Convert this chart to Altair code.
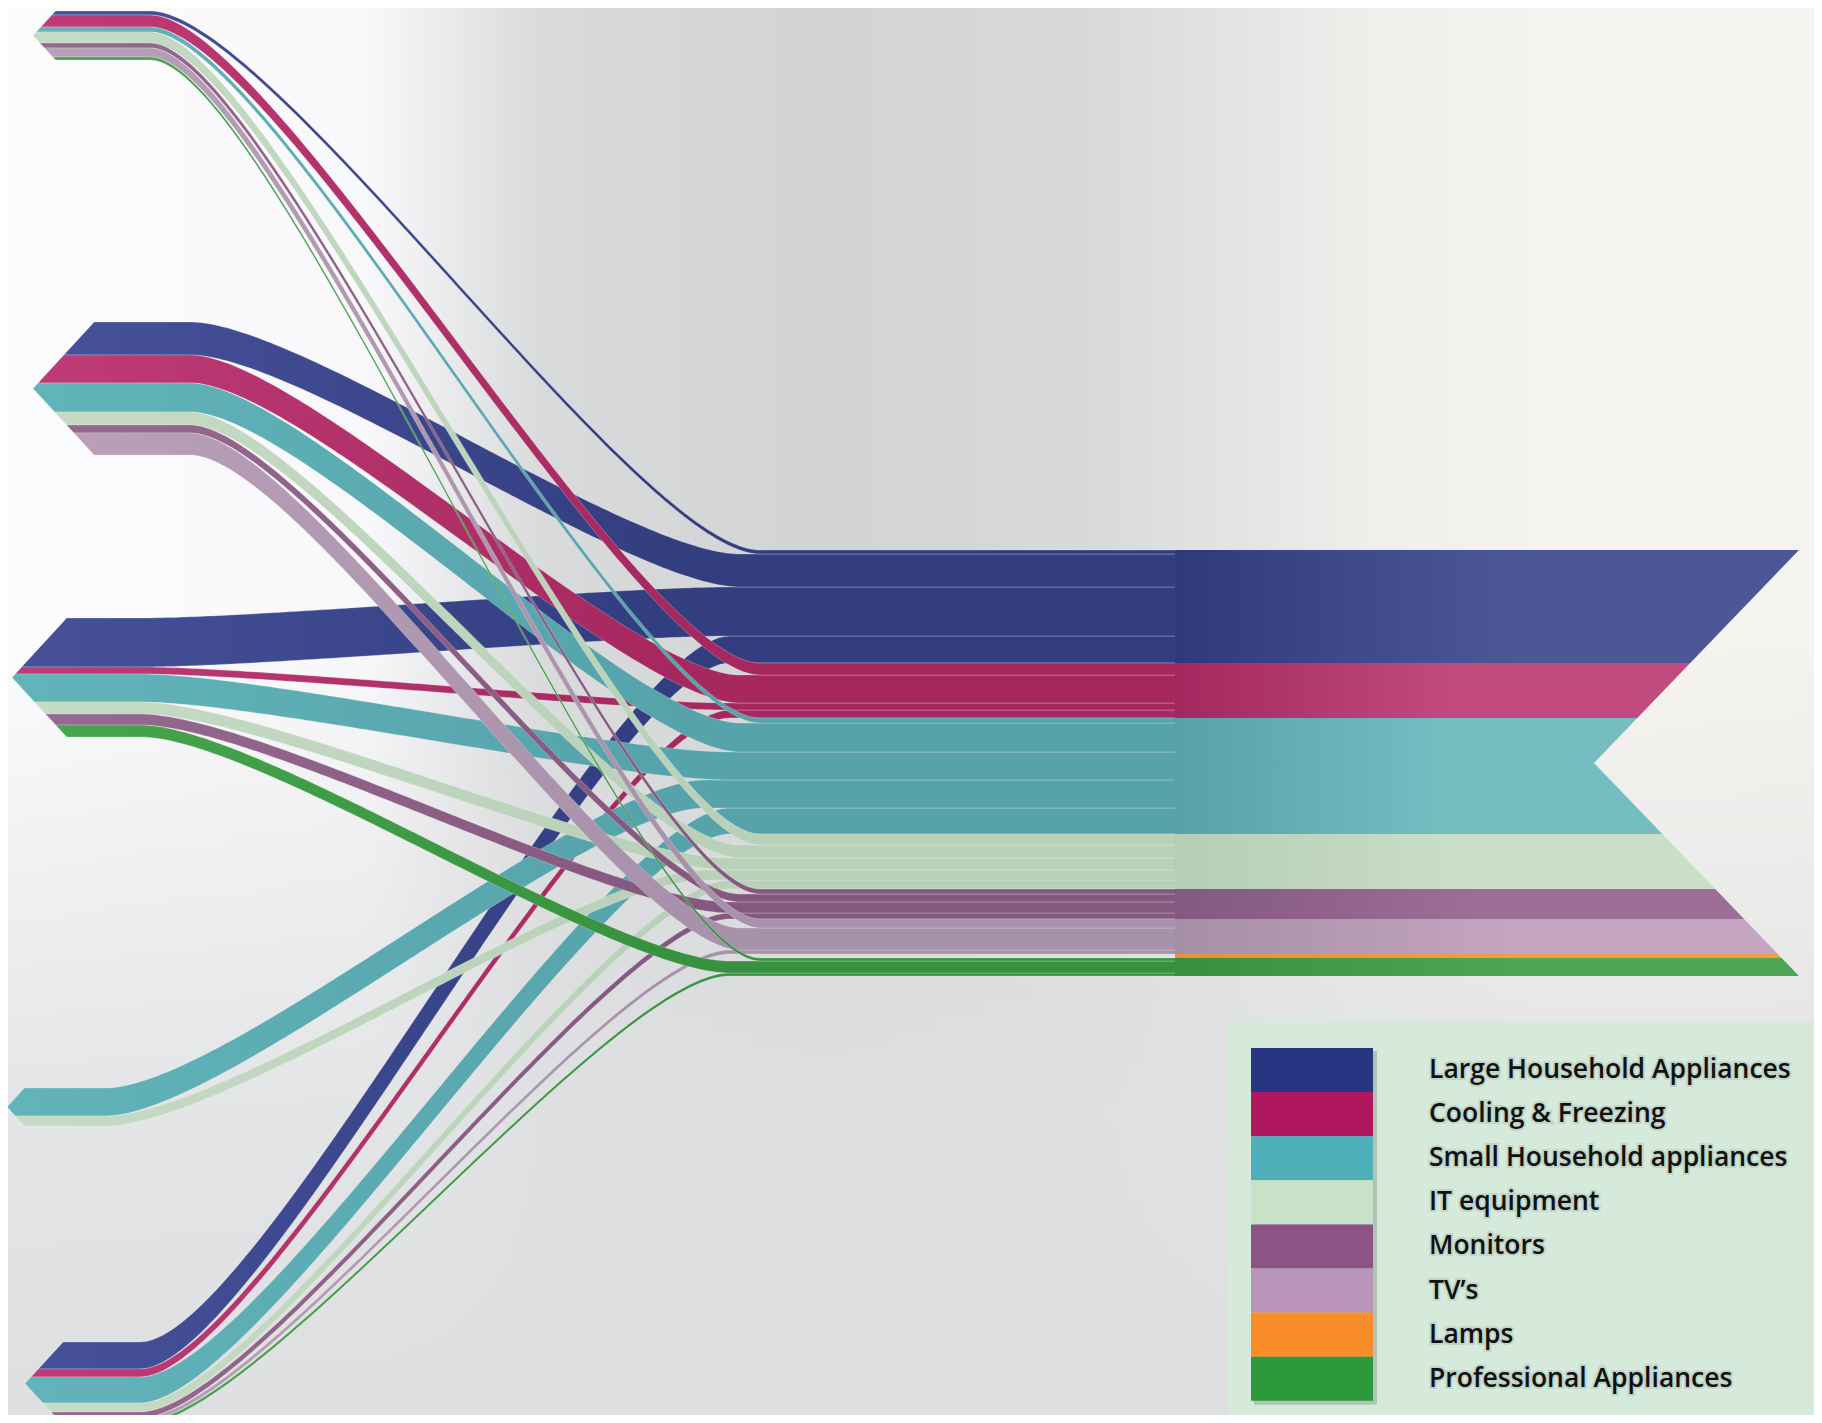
import altair as alt
import pandas as pd
import numpy as np

# ---------------- data ----------------
categories = ["Large Household Appliances", "Cooling & Freezing", "Small Household appliances",
              "IT equipment", "Monitors", "TV’s", "Lamps", "Professional Appliances"]
legend_colors = ["#283583", "#b0175e", "#4eafb9", "#c8e2c8", "#8c5386", "#b996b9", "#f98d2a", "#2e983d"]
flow_light = ["#46519a", "#bf3b77", "#62b4ba", "#c6dbc4", "#96698f", "#b9a0b9", "#f09a45", "#46a64c"]
flow_colors = ["#323e80", "#a6285f", "#56a3ab", "#b9d1b9", "#85587f", "#a891aa", "#e8913b", "#38913f"]
block_left = ["#2f3a7d", "#a3285f", "#58a1a9", "#b5ceb5", "#84587f", "#a58fa7", "#e8903a", "#38903e"]
block_right = ["#4c5896", "#c14b7e", "#75bdc1", "#cadfc6", "#9e6e96", "#c3a5c1", "#f29c47", "#50a554"]

sources = ["Source 1", "Source 2", "Source 3", "Source 4", "Source 5"]
flows_source1 = [4, 12, 5, 11, 5, 9, 0, 3]
flows_source2 = [33, 28, 29, 13, 8, 22, 0, 0]
flows_source3 = [49, 7, 28, 12, 11, 0, 0, 12]
flows_source4 = [0, 0, 28, 10, 0, 0, 0, 0]
flows_source5 = [27, 8, 26, 9, 6, 4, 0, 3]
flows = [flows_source1, flows_source2, flows_source3, flows_source4, flows_source5]
lamps_only_in_total = 4

# ---------------- layout (pixel space) ----------------
W, H = 1806, 1407
src_top = [11, 322, 618, 1088, 1342]
src_tip = [33, 33, 12, 7, 25]
src_bend = [150, 190, 140, 105, 140]
src_entry = [760, 740, 730, 705, 730]
CHEV = 0.92
TARGET_TOP = 550
BLOCK_X = 1175
ARROW_TIP = 1799
NOTCH_DEPTH = 205
K = 0.2

xs = alt.Scale(domain=[8, 8 + W], nice=False, zero=False)
ys = alt.Scale(domain=[8, 8 + H], reverse=True, nice=False, zero=False)

# target stacking
cat_tot = [sum(f[c] for f in flows) for c in range(8)]
cat_tot[6] += lamps_only_in_total
cat_top = list(np.cumsum([0] + cat_tot[:-1]) + TARGET_TOP)
tgt_bottom = TARGET_TOP + sum(cat_tot)
ptr = list(cat_top)
tgt_pos = {}
for s in range(5):
    for c in range(8):
        v = flows[s][c]
        if v > 0:
            tgt_pos[(s, c)] = ptr[c]
            ptr[c] += v

# flow band polygons
rows = []
finfo = []
fid = 0
for s in range(5):
    total = sum(flows[s])
    m = src_top[s] + total / 2.0
    tx = src_tip[s]
    off = src_top[s]
    for c in range(8):
        v = flows[s][c]
        if v <= 0:
            continue
        a, b = off, off + v
        off += v
        d = 0 if a <= m <= b else min(abs(a - m), abs(b - m))
        x0 = tx + CHEV * d
        cand = [x0, tx + CHEV * abs(a - m), tx + CHEV * abs(b - m)]
        xsamp = sorted(set(round(x, 4) for x in cand if x >= x0 - 1e-9))
        pts = []
        for x in xsamp:
            r = (x - tx) / CHEV
            top = max(a, m - r)
            bot = min(b, m + r)
            pts.append((x, top, max(top, bot)))
        x_s, x_e = src_bend[s], src_entry[s]
        at = tgt_pos[(s, c)]
        P = [(x_s, a), (x_s + K * (x_e - x_s), a), (x_e - K * (x_e - x_s), at), (x_e, at)]
        for t in np.linspace(0, 1, 120):
            u = 1 - t
            x = u**3 * P[0][0] + 3 * u * u * t * P[1][0] + 3 * u * t * t * P[2][0] + t**3 * P[3][0]
            y = u**3 * P[0][1] + 3 * u * u * t * P[1][1] + 3 * u * t * t * P[2][1] + t**3 * P[3][1]
            if x > pts[-1][0] + 1e-6:
                pts.append((x, y, y + v))
        pts.append((BLOCK_X + 1, at, at + v))
        for x, y1, y2 in pts:
            rows.append({"fid": fid, "src": s, "cat": categories[c], "x": x, "y": y1, "y2": y2})
        finfo.append((fid, s, c, pts[0][0], x_e))
        fid += 1
flow_df = pd.DataFrame(rows)

# ---------------- background ----------------
base = pd.DataFrame({"k": [0]})
bg_h = alt.Chart(base).mark_rect(color=alt.Gradient(
    gradient="linear", x1=0, x2=1, y1=0, y2=0,
    stops=[alt.GradientStop(color="#fcfcfe", offset=0),
           alt.GradientStop(color="#f8f8fa", offset=0.2),
           alt.GradientStop(color="#d9dadc", offset=0.295),
           alt.GradientStop(color="#d2d3d5", offset=0.45),
           alt.GradientStop(color="#d8d9da", offset=0.6),
           alt.GradientStop(color="#eeeeeb", offset=0.75),
           alt.GradientStop(color="#f5f4f0", offset=0.86),
           alt.GradientStop(color="#f4f3ef", offset=1)])).encode(
    x=alt.value(0), x2=alt.value(W), y=alt.value(0), y2=alt.value(H))
bg_v = alt.Chart(base).mark_rect(color=alt.Gradient(
    gradient="linear", x1=0, x2=0, y1=0, y2=1,
    stops=[alt.GradientStop(color="rgba(224,225,226,0)", offset=0),
           alt.GradientStop(color="rgba(224,225,226,0)", offset=0.45),
           alt.GradientStop(color="rgba(224,225,226,0.85)", offset=0.78),
           alt.GradientStop(color="rgba(222,223,224,1)", offset=1)])).encode(
    x=alt.value(0), x2=alt.value(W), y=alt.value(0), y2=alt.value(H))

# ---------------- flows (each with a light-to-dark gradient) ----------------
flow_layers = []
for s in [4, 3, 2, 1, 0]:
    for (f, fs, c, xstart, xentry) in finfo:
        if fs != s:
            continue
        d = flow_df[flow_df.fid == f]
        frac = (xentry - xstart) / (BLOCK_X + 1 - xstart)
        grad = alt.Gradient(
            gradient="linear", x1=0, x2=1, y1=0, y2=0,
            stops=[alt.GradientStop(color=flow_light[c], offset=0),
                   alt.GradientStop(color=flow_colors[c], offset=float(min(0.99, frac * 0.9))),
                   alt.GradientStop(color=flow_colors[c], offset=1)])
        flow_layers.append(
            alt.Chart(d).mark_area(clip=True, interpolate="linear", color=grad, stroke="#f4f4f4",
                                   strokeWidth=0.6, strokeOpacity=0.45, opacity=1).encode(
                x=alt.X("x:Q", scale=xs, axis=None),
                y=alt.Y("y:Q", scale=ys, axis=None, stack=None),
                y2="y2:Q",
            ))

# ---------------- end block (arrow tail) ----------------
notch_y = (TARGET_TOP + tgt_bottom) / 2.0
half = (tgt_bottom - TARGET_TOP) / 2.0


def right_edge(y):
    return ARROW_TIP - NOTCH_DEPTH + NOTCH_DEPTH * abs(y - notch_y) / half


block_layers = []
for c in range(8):
    a, b = cat_top[c], cat_top[c] + cat_tot[c]
    yy = [a] + ([notch_y] if a < notch_y < b else []) + [b]
    d = pd.DataFrame({"y": yy, "x": [right_edge(y) for y in yy], "x2": [BLOCK_X] * len(yy)})
    block_layers.append(
        alt.Chart(d).mark_area(orient="horizontal", clip=True, opacity=1, color=alt.Gradient(
            gradient="linear", x1=0, x2=1, y1=0, y2=0,
            stops=[alt.GradientStop(color=block_left[c], offset=0),
                   alt.GradientStop(color=block_right[c], offset=0.55),
                   alt.GradientStop(color=block_right[c], offset=1)])).encode(
            y=alt.Y("y:Q", scale=ys, axis=None),
            x=alt.X("x:Q", scale=xs, axis=None),
            x2="x2:Q",
        ))

# ---------------- legend ----------------
LG_X0, LG_Y0 = 1228, 1021
SW_X0, SW_X1, SW_Y0, SW_H = 1251, 1373, 1048, 44.1
TXT_X = 1429
leg_box = alt.Chart(base).mark_rect(color="#d6eadb", clip=True).encode(
    x=alt.value(LG_X0 - 8), x2=alt.value(W), y=alt.value(LG_Y0 - 8), y2=alt.value(H))
leg_df = pd.DataFrame({
    "cat": categories,
    "col": legend_colors,
    "x": [SW_X0] * 8, "x2": [SW_X1] * 8,
    "y": [SW_Y0 + i * SW_H for i in range(8)],
    "y2": [SW_Y0 + (i + 1) * SW_H for i in range(8)],
    "ty": [SW_Y0 + (i + 0.5) * SW_H for i in range(8)],
    "tx": [TXT_X] * 8,
})
shadow_df = pd.DataFrame({"x": [SW_X0 + 3], "x2": [SW_X1 + 4], "y": [SW_Y0 + 3], "y2": [SW_Y0 + 8 * SW_H + 4]})
leg_shadow = alt.Chart(shadow_df).mark_rect(color="#5a6a5e", opacity=0.3).encode(
    x=alt.X("x:Q", scale=xs, axis=None), x2="x2:Q",
    y=alt.Y("y:Q", scale=ys, axis=None), y2="y2:Q")
leg_sw = alt.Chart(leg_df).mark_rect().encode(
    x=alt.X("x:Q", scale=xs, axis=None), x2="x2:Q",
    y=alt.Y("y:Q", scale=ys, axis=None), y2="y2:Q",
    color=alt.Color("col:N", scale=None, legend=None))
leg_glow = alt.Chart(leg_df).mark_text(align="left", baseline="middle", font="Open Sans", fontSize=26.5,
                                       fontWeight=600, color="#34403a", stroke="#34403a",
                                       strokeWidth=4, opacity=0.12).encode(
    x=alt.X("tx:Q", scale=xs, axis=None), y=alt.Y("ty:Q", scale=ys, axis=None), text="cat:N")
leg_txt = alt.Chart(leg_df).mark_text(align="left", baseline="middle", font="Open Sans", fontSize=26.5,
                                      fontWeight=600, color="#111111").encode(
    x=alt.X("tx:Q", scale=xs, axis=None), y=alt.Y("ty:Q", scale=ys, axis=None), text="cat:N")

chart = alt.layer(bg_h, bg_v, *flow_layers, *block_layers, leg_box, leg_shadow, leg_sw, leg_glow, leg_txt).properties(
    width=W, height=H, padding=0, autosize="none", background="#eeeeee"
).configure_view(stroke=None)

chart.save("out.html", embed_options={"renderer": "svg", "actions": False})
